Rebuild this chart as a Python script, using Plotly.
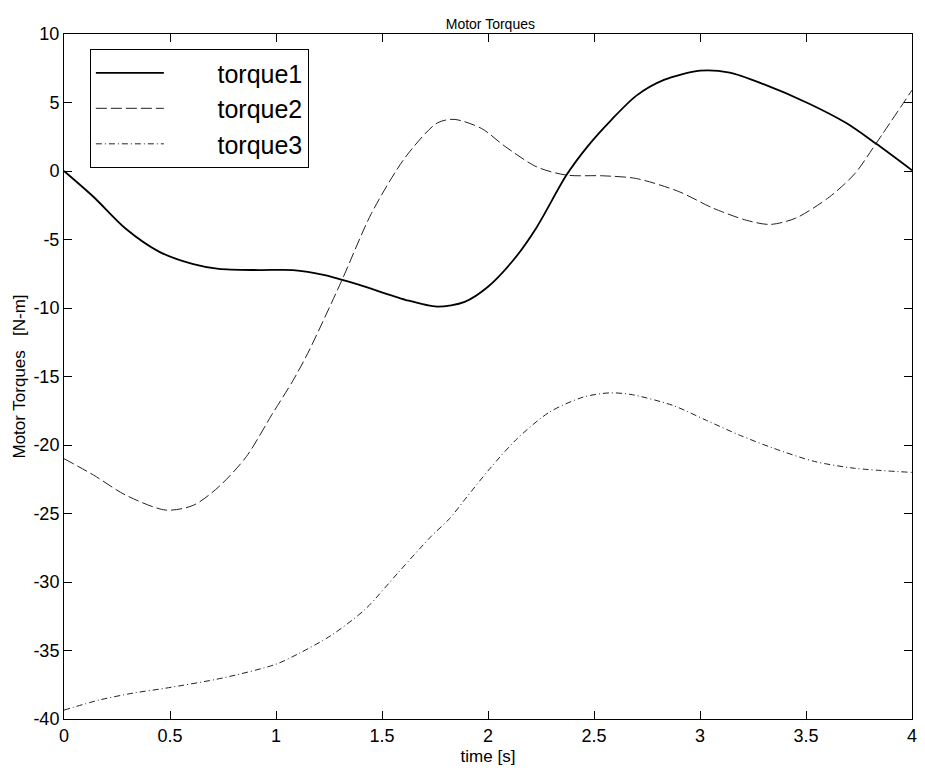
import plotly.graph_objects as go

# values
t1 = [0, 0.14, 0.29, 0.45, 0.61, 0.73, 0.92, 1.08, 1.23, 1.39, 1.61, 1.76, 1.89, 2.0,
      2.12, 2.23, 2.37, 2.47, 2.58, 2.7, 2.83, 3.0, 3.14, 3.29, 3.51, 3.69, 3.83, 4.0]
torque1 = [0, -1.9, -4.2, -5.9, -6.8, -7.15, -7.23, -7.23, -7.6, -8.3, -9.4, -9.9, -9.55, -8.45,
           -6.5, -4.1, -0.3, 1.8, 3.7, 5.5, 6.65, 7.32, 7.18, 6.4, 4.95, 3.5, 2.0, 0.05]

t2 = [0, 0.14, 0.29, 0.48, 0.61, 0.73, 0.86, 0.98, 1.08, 1.15, 1.31, 1.45, 1.61, 1.76, 1.84,
      1.97, 2.08, 2.23, 2.37, 2.54, 2.7, 2.9, 3.06, 3.22, 3.33, 3.45, 3.61, 3.73, 3.83, 4.0]
torque2 = [-21.0, -22.2, -23.65, -24.75, -24.4, -23.05, -20.85, -17.8, -15.3, -13.3, -8.0, -3.1, 1.0, 3.5, 3.77,
           3.1, 1.8, 0.3, -0.3, -0.35, -0.55, -1.5, -2.7, -3.6, -3.9, -3.45, -1.9, -0.2, 2.0, 5.9]

t3 = [0, 0.17, 0.33, 0.48, 0.75, 1.0, 1.11, 1.26, 1.42, 1.58, 1.73, 1.82, 1.9, 2.01, 2.14,
      2.29, 2.45, 2.57, 2.67, 2.87, 3.03, 3.19, 3.34, 3.54, 3.73, 4.0]
torque3 = [-39.35, -38.6, -38.1, -37.75, -37.0, -36.0, -35.2, -33.9, -32.0, -29.25, -26.7, -25.35, -23.8, -21.7, -19.5,
           -17.6, -16.5, -16.2, -16.3, -17.1, -18.2, -19.3, -20.2, -21.2, -21.7, -22.0]

x_ticks = [0, 0.5, 1, 1.5, 2, 2.5, 3, 3.5, 4]
x_ticktext = ["0", "0.5", "1", "1.5", "2", "2.5", "3", "3.5", "4"]
y_ticks = [-40, -35, -30, -25, -20, -15, -10, -5, 0, 5, 10]
y_ticktext = ["-40", "-35", "-30", "-25", "-20", "-15", "-10", "-5", "0", "5", "10"]

FONT = "Liberation Sans, Arial, sans-serif"
PAD = "&nbsp;" * 7  # MATLAB leaves a wide gap between legend sample and label

fig = go.Figure()
fig.add_trace(go.Scatter(x=t1, y=torque1, mode="lines", name=PAD + "torque1",
                         line=dict(color="black", width=1.8, shape="spline", smoothing=0.8)))
fig.add_trace(go.Scatter(x=t2, y=torque2, mode="lines", name=PAD + "torque2",
                         line=dict(color="#222222", width=1, dash="11px,4px", shape="spline", smoothing=0.8)))
fig.add_trace(go.Scatter(x=t3, y=torque3, mode="lines", name=PAD + "torque3",
                         line=dict(color="#222222", width=1, dash="6px,3px,1px,3px", shape="spline", smoothing=0.8)))

axis_style = dict(
    showline=True, linecolor="black", linewidth=1, mirror="ticks",
    ticks="inside", ticklen=8, tickcolor="black", tickwidth=1,
    showgrid=False, zeroline=False,
    tickfont=dict(family=FONT, size=18, color="black"),
)

fig.update_xaxes(range=[0, 4], tickvals=x_ticks, ticktext=x_ticktext,
                 title=dict(text="time [s]", font=dict(family=FONT, size=17, color="black"), standoff=5),
                 **axis_style)
fig.update_yaxes(range=[-40, 10], tickvals=y_ticks, ticktext=y_ticktext,
                 title=dict(text="Motor Torques&nbsp;&nbsp; [N-m]", font=dict(family=FONT, size=17, color="black"),
                            standoff=3),
                 **axis_style)

# the page body adds an 8px margin, so the figure is 8px smaller than the window
fig.update_layout(
    width=917, height=763, autosize=False,
    margin=dict(l=56, r=8, t=26, b=52),
    paper_bgcolor="white", plot_bgcolor="white",
    title=dict(text="Motor Torques", x=0.526, xanchor="center", y=0.979, yanchor="middle",
               font=dict(family=FONT, size=14, color="black")),
    legend=dict(x=0.0305, y=0.978, xanchor="left", yanchor="top",
                bgcolor="white", bordercolor="black", borderwidth=1,
                font=dict(family=FONT, size=25, color="black"), itemwidth=68,
                tracegroupgap=0),
    showlegend=True,
)

fig.write_html("out.html")
